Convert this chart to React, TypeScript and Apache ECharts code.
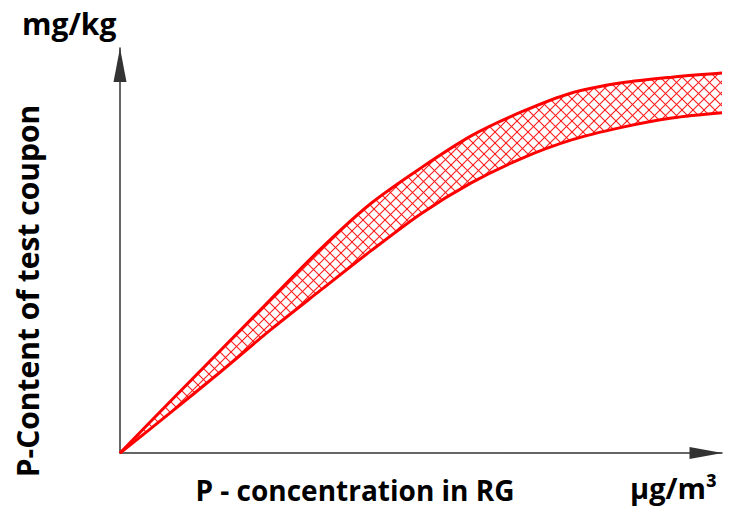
import React, { useEffect, useRef } from "react";
import * as echarts from "echarts";

// x positions along the concentration axis (relative units, evenly spaced)
const xValues = ["0", "1", "2", "3", "4", "5", "6", "7", "8", "9", "10", "11", "12"];
// upper boundary of the band (P-content, relative units)
const upperValues = [0, 12.7, 25.3, 37.9, 50.4, 61.6, 70.4, 78.3, 84.2, 88.9, 91.4, 92.8, 93.8];
// lower boundary of the band
const lowerValues = [0, 9.9, 20.0, 30.4, 40.2, 49.9, 59.1, 66.7, 72.7, 77.3, 80.4, 82.7, 84.0];

const yTitle = "P-Content of test coupon";
const yUnit = "mg/kg";
const xTitle = "P - concentration in RG";
const xUnit = "μg/m³";

const FONT = '"Open Sans", "Noto Sans", sans-serif';

function makeHatch(): HTMLCanvasElement {
  const s = 11;
  const c = document.createElement("canvas");
  c.width = s;
  c.height = s;
  const ctx = c.getContext("2d")!;
  ctx.strokeStyle = "#ff1a1a";
  ctx.lineWidth = 1.1;
  for (const k of [-s, 0, s]) {
    ctx.beginPath();
    ctx.moveTo(k, 0);
    ctx.lineTo(k + s, s);
    ctx.stroke();
    ctx.beginPath();
    ctx.moveTo(k, s);
    ctx.lineTo(k + s, 0);
    ctx.stroke();
  }
  return c;
}

export default function App() {
  const ref = useRef<HTMLDivElement>(null);
  useEffect(() => {
    if (!ref.current) return;
    const chart = echarts.init(ref.current, undefined, { renderer: "svg" });
    const hatch = makeHatch();
    const diffData = upperValues.map((u, i) => +(u - lowerValues[i]).toFixed(2));
    const axisColor = "#333";
    chart.setOption({
      animation: false,
      grid: { left: 120, right: 8, top: 48, bottom: 55, containLabel: false },
      xAxis: {
        type: "category",
        data: xValues,
        boundaryGap: false,
        axisLine: {
          show: true,
          onZero: false,
          symbol: ["none", "triangle"],
          symbolSize: [12, 33],
          symbolOffset: [0, -16],
          lineStyle: { color: axisColor, width: 1.5 },
        },
        axisTick: { show: false },
        axisLabel: { show: false },
        splitLine: { show: false },
      },
      yAxis: {
        type: "value",
        min: 0,
        max: 100,
        axisLine: {
          show: true,
          onZero: false,
          symbol: ["none", "triangle"],
          symbolSize: [13, 34],
          symbolOffset: [0, -17],
          lineStyle: { color: axisColor, width: 1.5 },
        },
        axisTick: { show: false },
        axisLabel: { show: false },
        splitLine: { show: false },
      },
      series: [
        {
          name: "lower",
          type: "line",
          stack: "band",
          data: lowerValues,
          showSymbol: false,
          symbol: "none",
          smooth: 0.3,
          lineStyle: { color: "#ff0000", width: 3 },
          z: 3,
        },
        {
          name: "upper",
          type: "line",
          stack: "band",
          data: diffData,
          showSymbol: false,
          symbol: "none",
          smooth: 0.3,
          lineStyle: { color: "#ff0000", width: 3 },
          areaStyle: {
            color: { image: hatch, repeat: "repeat", imageWidth: 11, imageHeight: 11 },
            opacity: 1,
          },
          z: 3,
        },
      ],
      graphic: [
        {
          type: "text",
          x: 22,
          y: 23,
          style: { text: yUnit, font: `bold 30px ${FONT}`, fill: "#000", align: "left", verticalAlign: "middle" },
        },
        {
          type: "text",
          x: 27,
          y: 291,
          rotation: Math.PI / 2,
          style: { text: yTitle, font: `bold 30px ${FONT}`, fill: "#000", align: "center", verticalAlign: "middle" },
        },
        {
          type: "text",
          x: 355,
          y: 490,
          style: { text: xTitle, font: `bold 28px ${FONT}`, fill: "#000", align: "center", verticalAlign: "middle" },
        },
        {
          type: "text",
          x: 630,
          y: 487,
          style: { text: xUnit, font: `bold 29px ${FONT}`, fill: "#000", align: "left", verticalAlign: "middle" },
        },
      ],
    });
    return () => chart.dispose();
  }, []);
  return <div ref={ref} style={{ width: 730, height: 508, position: "absolute", left: 0, top: 0 }} />;
}
